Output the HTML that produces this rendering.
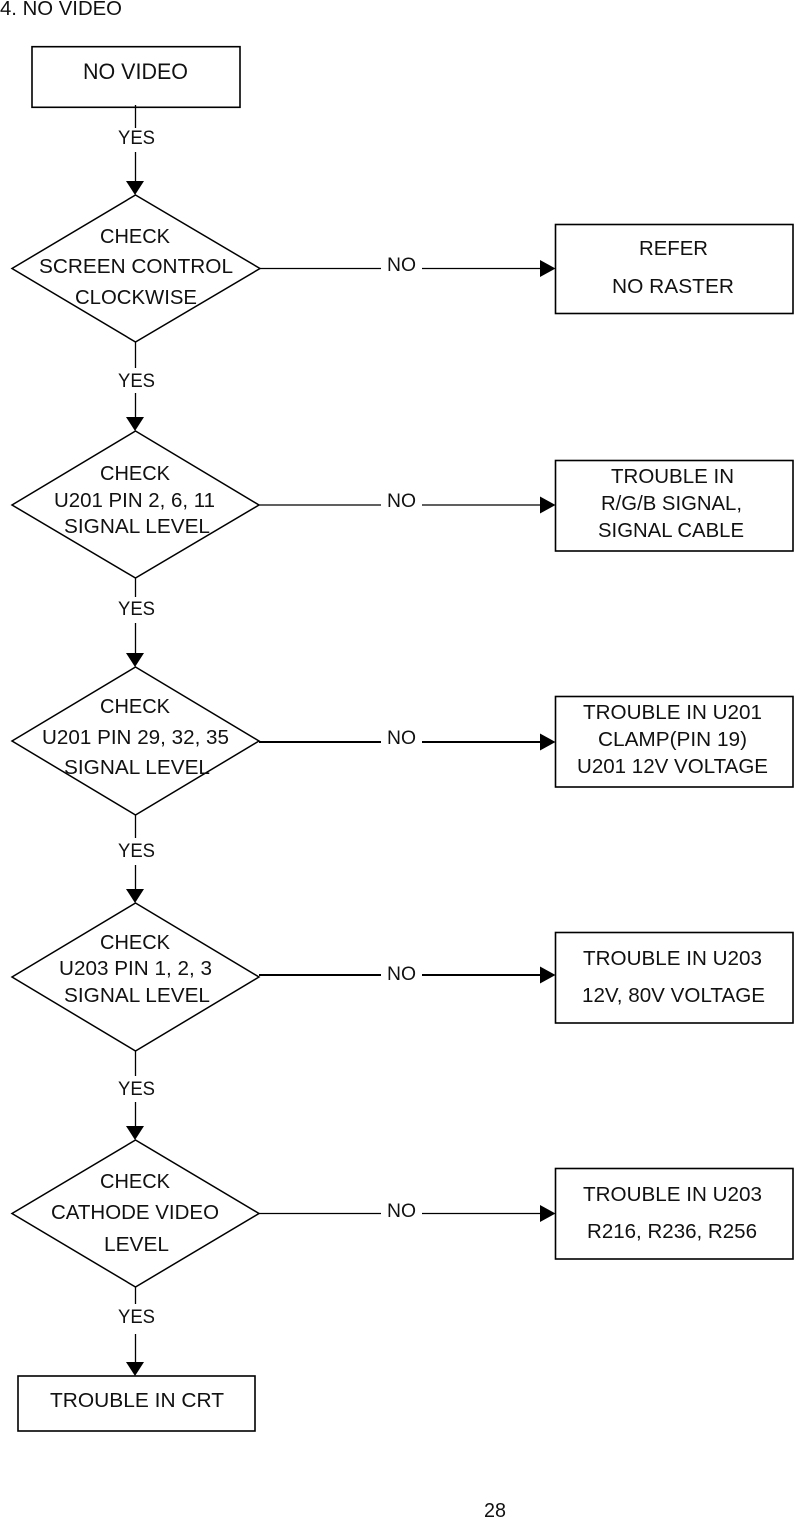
<!DOCTYPE html>
<html><head><meta charset="utf-8"><style>
html,body{margin:0;padding:0;background:#fff;width:794px;height:1519px;overflow:hidden}
svg{display:block}
text{font-family:"Liberation Sans",sans-serif;font-size:20.6px;fill:#111}
.y,.n{font-size:19.5px}
.l{stroke:#000;stroke-width:1.3;fill:none}
.t{stroke:#000;stroke-width:2;fill:none}
.b{stroke:#000;stroke-width:1.6;fill:#fff}
.d{stroke:#000;stroke-width:1.5;fill:#fff}
</style></head><body>
<svg width="794" height="1519" viewBox="0 0 794 1519" xmlns="http://www.w3.org/2000/svg">
<rect class="b" x="32" y="46.7" width="208" height="60.6"/>
<rect class="b" x="555.5" y="224.5" width="237.5" height="89"/>
<rect class="b" x="555.5" y="460.5" width="237.5" height="90.5"/>
<rect class="b" x="555.5" y="696.5" width="237.5" height="90.5"/>
<rect class="b" x="555.5" y="932.5" width="237.5" height="90.5"/>
<rect class="b" x="555.5" y="1168.5" width="237.5" height="90.5"/>
<rect class="b" x="18" y="1376" width="237" height="55"/>
<polygon class="d" points="135.5,195 260,268.5 135.5,342 12,268.5"/>
<polygon class="d" points="135.5,431 259,505 135.5,578 12,505"/>
<polygon class="d" points="135.5,667 259,741 135.5,815 12,741"/>
<polygon class="d" points="135.5,903 259,977 135.5,1051 12,977"/>
<polygon class="d" points="135.5,1140 259,1213.5 135.5,1287 12,1213.5"/>
<path class="l" d="M135.5 105V128M135.5 152V182M135.5 342V368M135.5 393V418M135.5 578V597M135.5 623V653M135.5 815V838M135.5 865V889M135.5 1051V1076M135.5 1102V1126M135.5 1287V1304M135.5 1334V1362"/>
<path class="l" d="M260 268.500H381M422 268.500H541M259 505H381M422 505H541M259 1213.500H381M422 1213.500H541"/>
<path class="t" d="M259 742H381M422 742H541M259 975H381M422 975H541"/>
<g fill="#000">
<polygon points="126,181 144,181 135,195"/>
<polygon points="126,417 144,417 135,431"/>
<polygon points="126,653 144,653 135,667"/>
<polygon points="126,889 144,889 135,903"/>
<polygon points="126,1126 144,1126 135,1140"/>
<polygon points="126,1362 144,1362 135,1376"/>
<polygon points="540,260 555.500,268.500 540,277"/>
<polygon points="540,496.500 555.500,505 540,513.500"/>
<polygon points="540,733.500 555.500,742 540,750.500"/>
<polygon points="540,966.500 555.500,975 540,983.500"/>
<polygon points="540,1205 555.500,1213.500 540,1222"/>
</g>
<text x="0" y="15" textLength="122" lengthAdjust="spacingAndGlyphs">4. NO VIDEO</text>
<text x="83" y="79" textLength="105" lengthAdjust="spacingAndGlyphs" style="font-size:22px">NO VIDEO</text>
<text x="118" y="144" textLength="37" lengthAdjust="spacingAndGlyphs" class="y">YES</text>
<text x="118" y="387" textLength="37" lengthAdjust="spacingAndGlyphs" class="y">YES</text>
<text x="118" y="615" textLength="37" lengthAdjust="spacingAndGlyphs" class="y">YES</text>
<text x="118" y="857" textLength="37" lengthAdjust="spacingAndGlyphs" class="y">YES</text>
<text x="118" y="1095" textLength="37" lengthAdjust="spacingAndGlyphs" class="y">YES</text>
<text x="118" y="1323" textLength="37" lengthAdjust="spacingAndGlyphs" class="y">YES</text>
<text x="387" y="271" textLength="29" lengthAdjust="spacingAndGlyphs" class="n">NO</text>
<text x="387" y="507" textLength="29" lengthAdjust="spacingAndGlyphs" class="n">NO</text>
<text x="387" y="744" textLength="29" lengthAdjust="spacingAndGlyphs" class="n">NO</text>
<text x="387" y="980" textLength="29" lengthAdjust="spacingAndGlyphs" class="n">NO</text>
<text x="387" y="1217" textLength="29" lengthAdjust="spacingAndGlyphs" class="n">NO</text>
<text x="100" y="243" textLength="70" lengthAdjust="spacingAndGlyphs">CHECK</text>
<text x="39" y="273" textLength="194" lengthAdjust="spacingAndGlyphs">SCREEN CONTROL</text>
<text x="75" y="304" textLength="122" lengthAdjust="spacingAndGlyphs">CLOCKWISE</text>
<text x="100" y="480" textLength="70" lengthAdjust="spacingAndGlyphs">CHECK</text>
<text x="54" y="507" textLength="161" lengthAdjust="spacingAndGlyphs">U201 PIN 2, 6, 11</text>
<text x="64" y="533" textLength="146" lengthAdjust="spacingAndGlyphs">SIGNAL LEVEL</text>
<text x="100" y="713" textLength="70" lengthAdjust="spacingAndGlyphs">CHECK</text>
<text x="42" y="744" textLength="187" lengthAdjust="spacingAndGlyphs">U201 PIN 29, 32, 35</text>
<text x="64" y="774" textLength="146" lengthAdjust="spacingAndGlyphs">SIGNAL LEVEL</text>
<text x="100" y="949" textLength="70" lengthAdjust="spacingAndGlyphs">CHECK</text>
<text x="59" y="975" textLength="153" lengthAdjust="spacingAndGlyphs">U203 PIN 1, 2, 3</text>
<text x="64" y="1002" textLength="146" lengthAdjust="spacingAndGlyphs">SIGNAL LEVEL</text>
<text x="100" y="1188" textLength="70" lengthAdjust="spacingAndGlyphs">CHECK</text>
<text x="51" y="1219" textLength="168" lengthAdjust="spacingAndGlyphs">CATHODE VIDEO</text>
<text x="104" y="1251" textLength="65" lengthAdjust="spacingAndGlyphs">LEVEL</text>
<text x="639" y="255" textLength="69" lengthAdjust="spacingAndGlyphs">REFER</text>
<text x="612" y="293" textLength="122" lengthAdjust="spacingAndGlyphs">NO RASTER</text>
<text x="611" y="483" textLength="123" lengthAdjust="spacingAndGlyphs">TROUBLE IN</text>
<text x="601" y="510" textLength="141" lengthAdjust="spacingAndGlyphs">R/G/B SIGNAL,</text>
<text x="598" y="537" textLength="146" lengthAdjust="spacingAndGlyphs">SIGNAL CABLE</text>
<text x="583" y="719" textLength="179" lengthAdjust="spacingAndGlyphs">TROUBLE IN U201</text>
<text x="598" y="746" textLength="149" lengthAdjust="spacingAndGlyphs">CLAMP(PIN 19)</text>
<text x="577" y="773" textLength="191" lengthAdjust="spacingAndGlyphs">U201 12V VOLTAGE</text>
<text x="583" y="965" textLength="179" lengthAdjust="spacingAndGlyphs">TROUBLE IN U203</text>
<text x="582" y="1002" textLength="183" lengthAdjust="spacingAndGlyphs">12V, 80V VOLTAGE</text>
<text x="583" y="1201" textLength="179" lengthAdjust="spacingAndGlyphs">TROUBLE IN U203</text>
<text x="587" y="1238" textLength="170" lengthAdjust="spacingAndGlyphs">R216, R236, R256</text>
<text x="50" y="1407" textLength="174" lengthAdjust="spacingAndGlyphs">TROUBLE IN CRT</text>
<text x="484" y="1517" textLength="22" lengthAdjust="spacingAndGlyphs">28</text>
</svg>
</body></html>
